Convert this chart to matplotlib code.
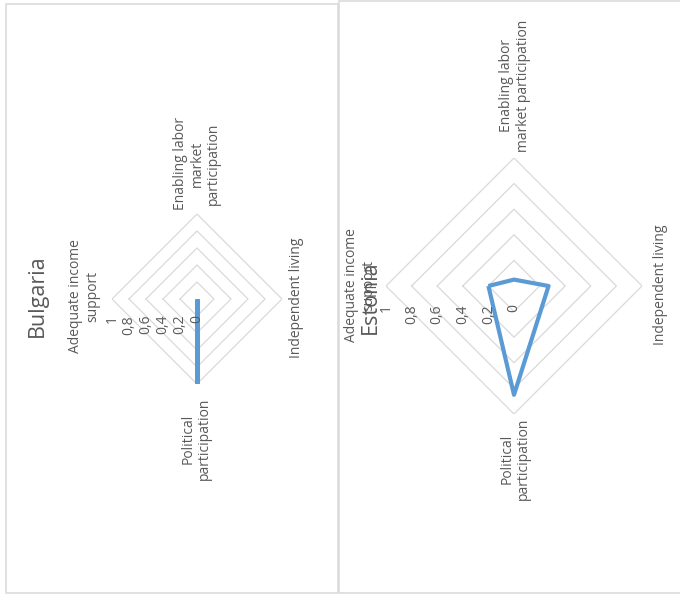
import numpy as np
import matplotlib
matplotlib.use("Agg")
import matplotlib.pyplot as plt
from matplotlib.patches import Rectangle

# ---- data ----
categories = ["Adequate income support", "Enabling labor market participation",
              "Independent living", "Political participation"]
bulgaria_values = [0.0, 0.0, 0.0, 1.0]
estonia_values = [0.20, 0.05, 0.27, 0.85]
radial_ticks = [0, 0.2, 0.4, 0.6, 0.8, 1.0]
radial_tick_labels = ["0", "0,2", "0,4", "0,6", "0,8", "1"]

bulgaria_labels = ["Adequate income\nsupport", "Enabling labor\nmarket\nparticipation",
                   "Independent living", "Political\nparticipation"]
estonia_labels = ["Adequate income\nsupport", "Enabling labor\nmarket participation",
                  "Independent living", "Political\nparticipation"]

W, H = 680, 596
FONT = "Open Sans"
TXT = "#595959"
GRID = "#d9d9d9"
LINE = "#5b9bd5"

fig = plt.figure(figsize=(W / 100, H / 100), dpi=100)
fig.patch.set_facecolor("white")


def fx(x):
    return x / W


def fy(y):
    return 1 - y / H


# panel borders
for (x0, y0, x1, y1) in [(5.7, 3.5, 337.7, 593.0), (339.0, 0.7, 682.0, 593.0)]:
    fig.patches.append(Rectangle((fx(x0), fy(y1)), fx(x1) - fx(x0), fy(y0) - fy(y1),
                                 transform=fig.transFigure, fill=False,
                                 edgecolor=GRID, lw=1.1, zorder=0))


def radar(cx, cy, R, values, labels, title, label_pos, title_pos, tick_off, lw, join):
    ax = fig.add_axes([fx(cx - R), fy(cy + R), 2 * R / W, 2 * R / H], projection="polar")
    ax.set_theta_zero_location("W")
    ax.set_theta_direction(-1)
    ax.set_ylim(0, 1)
    ax.grid(False)
    ax.set_xticks([])
    ax.set_yticks([])
    ax.spines["polar"].set_visible(False)
    ax.patch.set_alpha(0)

    n = len(categories)
    theta = np.linspace(0, 2 * np.pi, n, endpoint=False)
    tc = np.append(theta, theta[0])
    for r in radial_ticks[1:]:
        ax.plot(tc, [r] * (n + 1), color=GRID, lw=0.9, zorder=1)
    vc = np.append(values, values[0])
    ax.plot(tc, vc, color=LINE, lw=lw, zorder=3, solid_joinstyle=join,
            solid_capstyle="butt")

    for r, lab in zip(radial_ticks, radial_tick_labels):
        ax.annotate(lab, xy=(0, r), xytext=(0, -tick_off), textcoords="offset pixels",
                    rotation=90, ha="center", va="top", fontsize=10,
                    color=TXT, family=FONT, zorder=4)

    for lab, (x, y, ha, va) in zip(labels, label_pos):
        fig.text(fx(x), fy(y), lab, rotation=90, ha=ha, va=va, fontsize=10,
                 color=TXT, family=FONT, multialignment="center", linespacing=1.15)

    fig.text(fx(title_pos[0]), fy(title_pos[1]), title, rotation=90, ha="center",
             va="center", fontsize=15.5, color=TXT, family=FONT)
    return ax


radar(197, 299, 85, bulgaria_values, bulgaria_labels, "Bulgaria",
      [(84, 296, "center", "center"), (197, 210, "center", "bottom"),
       (297, 298, "center", "center"), (196, 398, "center", "top")],
      (37, 296), 16, 3.4, "bevel")

radar(514, 286, 128, estonia_values, estonia_labels, "Estonia",
      [(360, 285, "center", "center"), (515, 152, "center", "bottom"),
       (660, 285, "center", "center"), (515, 418, "center", "top")],
      (370, 297), 18, 3.0, "round")

fig.savefig("out.png", dpi=100)
